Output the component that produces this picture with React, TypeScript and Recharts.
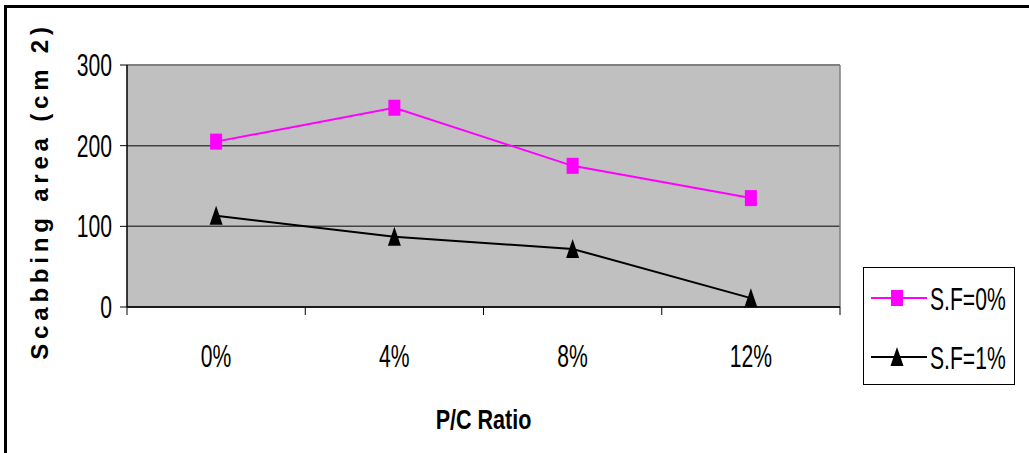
import React from "react";
import {
  LineChart,
  Line,
  XAxis,
  YAxis,
  CartesianGrid,
  ReferenceLine,
} from "recharts";

const CATEGORIES = ["0%", "4%", "8%", "12%"];
const SF_0 = [205, 247, 175, 135];
const SF_1 = [113, 87, 72, 11];
const SERIES_NAMES = ["S.F=0%", "S.F=1%"];
const Y_TICKS = [0, 100, 200, 300];
const X_TICKS = [-0.5, 0, 0.5, 1, 1.5, 2, 2.5, 3, 3.5];

const data = CATEGORIES.map((c, i) => ({ x: i, name: c, sf0: SF_0[i], sf1: SF_1[i] }));

const FONT = "'Liberation Sans', Arial, sans-serif";
const PINK = "#FF00FF";

// narrow text: Arial Narrow is not around, so squeeze Liberation Sans
function NText({ x, y, anchor = "start", size = 32, sx = 0.66, bold = false, children }: any) {
  return (
    <text
      transform={`translate(${x} ${y}) scale(${sx} 1)`}
      textAnchor={anchor}
      fontFamily={FONT}
      fontSize={size}
      fontWeight={bold ? "bold" : "normal"}
      fill="#000"
    >
      {children}
    </text>
  );
}

function Square(props: any) {
  const { cx, cy } = props;
  if (cx == null || cy == null) return null;
  return <rect x={cx - 6} y={cy - 8} width={12} height={16} fill={PINK} />;
}

function Triangle(props: any) {
  const { cx, cy } = props;
  if (cx == null || cy == null) return null;
  return <path d={`M${cx},${cy - 10} L${cx + 6.5},${cy + 9} L${cx - 6.5},${cy + 9} Z`} fill="#000" />;
}

function XTick(props: any) {
  const { x, y, payload } = props;
  const v = payload.value;
  if (Number.isInteger(v)) {
    return (
      <NText x={x} y={y + 60} anchor="middle">
        {CATEGORIES[v]}
      </NText>
    );
  }
  return <line x1={x} x2={x} y1={y} y2={y + 8} stroke="#000" strokeWidth={1} />;
}

function YTick(props: any) {
  const { x, y, payload } = props;
  return (
    <NText x={x} y={y + 11} anchor="end">
      {payload.value}
    </NText>
  );
}

function LegendBox() {
  const rows = [
    { label: SERIES_NAMES[0], color: PINK, square: true },
    { label: SERIES_NAMES[1], color: "#000", square: false },
  ];
  return (
    <svg
      width={153}
      height={118}
      style={{ position: "absolute", left: 863, top: 267, display: "block" }}
    >
      <rect x={0.5} y={0.5} width={151} height={117} fill="#fff" stroke="#000" />
      {rows.map((r, i) => {
        const cy = 31 + i * 59;
        return (
          <g key={r.label}>
            <line x1={8} x2={64} y1={cy} y2={cy} stroke={r.color} strokeWidth={2} />
            {r.square ? (
              <rect x={28} y={cy - 8} width={12} height={16} fill={r.color} />
            ) : (
              <path d={`M34,${cy - 10} L40.5,${cy + 9} L27.5,${cy + 9} Z`} fill={r.color} />
            )}
            <NText x={67} y={cy + 12}>
              {r.label}
            </NText>
          </g>
        );
      })}
    </svg>
  );
}

export default function App() {
  return (
    <div style={{ position: "fixed", left: 0, top: 0, width: 1029, height: 453, background: "#fff", overflow: "hidden" }}>
      <div
        style={{
          position: "absolute",
          left: 4,
          top: 5,
          right: -10,
          bottom: -10,
          borderTop: "3px solid #000",
          borderLeft: "3px solid #000",
        }}
      />
      <LineChart
        width={1029}
        height={453}
        data={data}
        margin={{ top: 65, right: 189, bottom: 86, left: 67 }}
        style={{ position: "absolute", left: 0, top: 0 }}
      >
        <CartesianGrid horizontal vertical={false} fill="#C0C0C0" stroke="#444" strokeWidth={1.5} />
        <ReferenceLine x={3.5} stroke="#808080" strokeWidth={1.5} />
        <ReferenceLine y={300} stroke="#808080" strokeWidth={2} />
        <XAxis
          dataKey="x"
          type="number"
          domain={[-0.5, 3.5]}
          ticks={X_TICKS}
          interval={0}
          tickLine={false}
          tickSize={0}
          tickMargin={0}
          tick={<XTick />}
          height={60}
          axisLine={{ stroke: "#000", strokeWidth: 1.5 }}
          label={(p: any) => {
            const vb = p.viewBox;
            return (
              <NText x={vb.x + vb.width / 2} y={vb.y + 122} anchor="middle" size={28} sx={0.77} bold>
                P/C Ratio
              </NText>
            );
          }}
        />
        <YAxis
          type="number"
          domain={[0, 300]}
          ticks={Y_TICKS}
          interval={0}
          width={60}
          tickSize={7}
          tickMargin={8}
          tick={<YTick />}
          tickLine={{ stroke: "#000" }}
          axisLine={{ stroke: "#000", strokeWidth: 1.5 }}
          label={() => (
            <text
              transform="translate(48 191) rotate(-90)"
              textAnchor="middle"
              fontFamily={FONT}
              fontWeight="bold"
              fontSize={24}
              letterSpacing={4.8}
              fill="#000"
            >
              Scabbing area (cm 2)
            </text>
          )}
        />
        <Line
          dataKey="sf0"
          name={SERIES_NAMES[0]}
          stroke={PINK}
          strokeWidth={2}
          dot={<Square />}
          activeDot={false}
          isAnimationActive={false}
        />
        <Line
          dataKey="sf1"
          name={SERIES_NAMES[1]}
          stroke="#000"
          strokeWidth={2}
          dot={<Triangle />}
          activeDot={false}
          isAnimationActive={false}
        />
      </LineChart>
      <LegendBox />
    </div>
  );
}
